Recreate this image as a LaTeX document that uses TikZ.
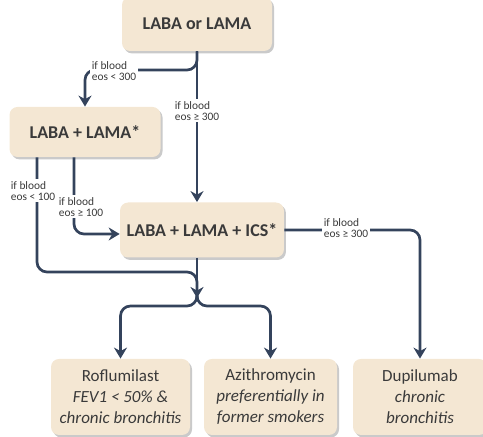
\documentclass[tikz,border=0pt]{standalone}
\usepackage{fontspec}
\setmainfont{Carlito}
\usetikzlibrary{positioning,arrows.meta,shadows}
\definecolor{boxfill}{HTML}{F4E7D3}
\definecolor{linecol}{HTML}{34435C}
\definecolor{txtcol}{HTML}{3A3A3A}
\tikzset{
  drugbox/.style={rectangle, rounded corners=4pt, fill=boxfill, text=txtcol, align=center,
    drop shadow={shadow xshift=1pt, shadow yshift=-1.2pt, opacity=0.35, fill=black!60}},
  bigbox/.style={drugbox, font=\fontsize{9}{10}\selectfont\bfseries},
  smallbox/.style={drugbox, minimum height=38pt, font=\fontsize{8.5}{10.5}\selectfont},
  flow/.style={draw=linecol, line width=1.35pt, rounded corners=5pt},
  lbl/.style={fill=white, inner sep=1pt, align=left, text=txtcol, font=\fontsize{5.7}{5.5}\selectfont},
}
\begin{document}
\begin{tikzpicture}[x=0.5pt, y=-0.5pt, >={Stealth[length=5.5pt,width=6.5pt]}]
    \useasboundingbox (0,0) rectangle (483,437);
    %% boxes
    \node[bigbox, minimum width=75pt, minimum height=27pt] (laba) at (197,24) {LABA or LAMA};
    \node[bigbox, minimum width=75.5pt, minimum height=25pt] (dual) at (85,132) {LABA + LAMA*};
    \node[bigbox, minimum width=81pt, minimum height=27.5pt] (triple) at (202,230) {LABA + LAMA + ICS*};
    \node[smallbox, minimum width=69.5pt] (rof) at (120.5,397) {Roflumilast\\\textit{FEV1 < 50\% \&}\\\textit{chronic bronchitis}};
    \node[smallbox, minimum width=66.5pt] (azi) at (270.5,397) {Azithromycin\\\textit{preferentially in}\\\textit{former smokers}};
    \node[smallbox, minimum width=67pt] (dup) at (420,397) {Dupilumab\\\textit{chronic}\\\textit{bronchitis}};
    % branch points
    \coordinate (fork) at (197,70);
    \coordinate (merge) at (197,272);
    \coordinate (hub) at (197,298);
    %% connectors
    \draw[flow,->] (laba.south) -- (fork) -| (dual.north);
    \draw[flow,->] (laba.south) -- (laba.south |- triple.north);
    \draw[flow,->] ([xshift=-5.5pt]dual.south) |- ([yshift=-2pt]triple.west);
    \draw[flow] ([xshift=-24pt]dual.south) |- (merge) -- (hub);
    \draw[flow,->] (triple.south -| hub) -- (hub);
    \draw[flow,->] (hub) -- ++(0,8) -| (rof.north);
    \draw[flow,->] (hub) -- ++(0,8) -| (azi.north);
    \draw[flow,->] (triple.east) -| (dup.north);
    %% labels on the lines
    \node[lbl] (c300) at (114,71) {if blood\\eos < 300};
    \node[lbl] (h300) at (197,111) {if blood\\eos ≥ 300};
    \node[lbl] (c100) at (33,191) {if blood\\eos < 100};
    \node[lbl] (h100) at (81,207) {if blood\\eos ≥ 100};
    \node[lbl] (r300) at (346,228) {if blood\\eos ≥ 300};
\end{tikzpicture}
\end{document}
